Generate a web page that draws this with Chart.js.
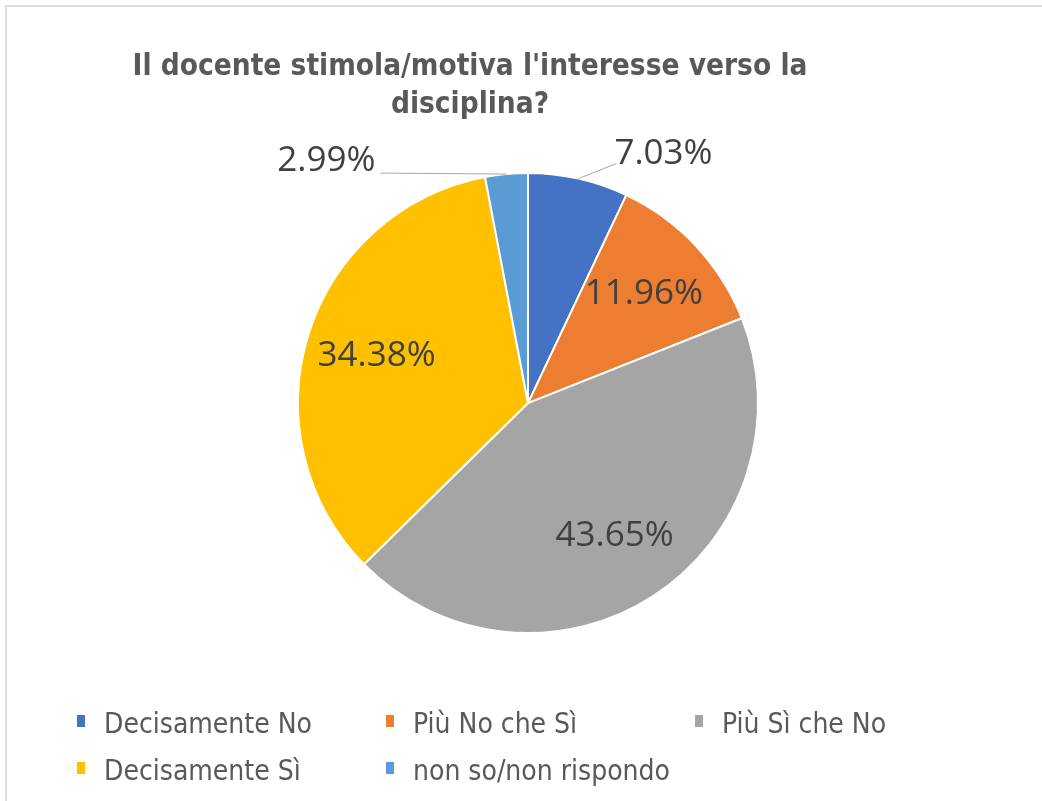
<!DOCTYPE html>
<html lang="it">
<head>
<meta charset="utf-8">
<title>Il docente stimola/motiva l'interesse verso la disciplina?</title>
<script src="https://cdn.jsdelivr.net/npm/chart.js@4.4.1/dist/chart.umd.min.js"></script>
<style>
  html, body { margin: 0; padding: 0; background: #fff; }
  #wrap { position: relative; width: 1042px; height: 801px; }
  #frame {
    position: absolute; left: 5px; top: 5px; right: 0; bottom: 0;
    border-top: 2px solid #dedede; border-left: 2px solid #dedede;
    pointer-events: none;
  }
</style>
</head>
<body>
<div id="wrap">
  <canvas id="pie"></canvas>
  <div id="frame"></div>
</div>
<script>
// chart data
const titleLines = ["Il docente stimola/motiva l'interesse verso la", 'disciplina?'];
const categories = ['Decisamente No', 'Più No che Sì', 'Più Sì che No', 'Decisamente Sì', 'non so/non rispondo'];
const percentages = [7.03, 11.96, 43.65, 34.38, 2.99];
const sliceColors = ['#4472c4', '#ed7d31', '#a5a5a5', '#ffc000', '#5b9bd5'];

const narrowFont = "'Liberation Sans Narrow', 'DejaVu Sans Condensed', 'Arial Narrow', sans-serif";

// percentage labels: inside the big slices, outside with a leader line for the small ones
const pieLabels = {
  id: 'pieLabels',
  afterDatasetsDraw(chart, args, opts) {
    const { ctx } = chart;
    const values = chart.data.datasets[0].data;
    ctx.save();
    ctx.font = opts.font;
    ctx.fillStyle = opts.color;
    chart.getDatasetMeta(0).data.forEach((arc, i) => {
      const { x, y, startAngle, endAngle, outerRadius } = arc.getProps(['x', 'y', 'startAngle', 'endAngle', 'outerRadius'], true);
      const mid = (startAngle + endAngle) / 2;
      const text = values[i].toFixed(2) + '%';
      if (values[i] >= opts.minInside) {
        const r = outerRadius * opts.insideRatio;
        ctx.textAlign = 'center';
        ctx.textBaseline = 'middle';
        ctx.fillText(text, x + r * Math.cos(mid), y + r * Math.sin(mid));
        return;
      }
      const px = x + outerRadius * Math.cos(mid);
      const py = y + outerRadius * Math.sin(mid);
      const right = Math.cos(mid) >= 0;
      const lead = right ? opts.leadRight : opts.leadLeft;
      const ex = px + lead.dx;
      const ey = py + lead.dy;
      ctx.strokeStyle = opts.lineColor;
      ctx.lineWidth = 1;
      ctx.beginPath();
      ctx.moveTo(px, py);
      ctx.lineTo(ex, ey);
      ctx.stroke();
      ctx.textAlign = right ? 'left' : 'right';
      ctx.textBaseline = 'alphabetic';
      ctx.fillText(text, ex + (right ? -2 : -5), ey + lead.textDy);
    });
    ctx.restore();
  },
};

// legend laid out as a 3-column grid like the office one
const gridLegend = {
  id: 'gridLegend',
  afterDraw(chart, args, opts) {
    const { ctx } = chart;
    const colors = chart.data.datasets[0].backgroundColor;
    ctx.save();
    ctx.font = opts.font;
    ctx.textAlign = 'left';
    ctx.textBaseline = 'alphabetic';
    chart.data.labels.forEach((label, i) => {
      const x = opts.left + (i % opts.columns) * opts.columnWidth;
      const y = opts.top + Math.floor(i / opts.columns) * opts.rowHeight;
      ctx.fillStyle = colors[i];
      ctx.fillRect(x, y - opts.boxRaise, opts.boxWidth, opts.boxHeight);
      ctx.fillStyle = opts.color;
      ctx.fillText(label, x + opts.textGap, y);
    });
    ctx.restore();
  },
};

// the title sits left of the pie centre in the original
const titleShift = {
  id: 'titleShift',
  afterLayout(chart, args, opts) {
    const t = chart.titleBlock;
    if (t) {
      t.left = opts.center - 470;
      t.right = opts.center + 470;
    }
  },
};

new Chart(document.getElementById('pie'), {
  type: 'pie',
  data: {
    labels: categories,
    datasets: [{
      data: percentages,
      backgroundColor: sliceColors,
      borderColor: '#ffffff',
      borderWidth: 2,
      radius: 230,
    }],
  },
  plugins: [pieLabels, gridLegend, titleShift],
  options: {
    responsive: true,
    maintainAspectRatio: false,
    animation: false,
    layout: { padding: { left: 14, right: 0, top: 0, bottom: 168 } },
    plugins: {
      legend: { display: false },
      tooltip: { enabled: false },
      title: {
        display: true,
        text: titleLines,
        color: '#595959',
        font: { family: narrowFont, size: 29.5, weight: 'bold', lineHeight: 1.29 },
        padding: { top: 48, bottom: 49 },
      },
      titleShift: { center: 470 },
      pieLabels: {
        font: "35px 'Open Sans', sans-serif",
        color: '#404040',
        lineColor: '#a6a6a6',
        minInside: 10,
        insideRatio: 0.69,
        leadRight: { dx: 38, dy: -15, textDy: 0 },
        leadLeft: { dx: -126, dy: -1, textDy: -2 },
      },
      gridLegend: {
        font: '28px ' + narrowFont,
        color: '#595959',
        left: 77,
        top: 733,
        columns: 3,
        columnWidth: 309,
        rowHeight: 47,
        boxWidth: 8,
        boxHeight: 12,
        boxRaise: 18,
        textGap: 27,
      },
    },
  },
});
</script>
</body>
</html>
